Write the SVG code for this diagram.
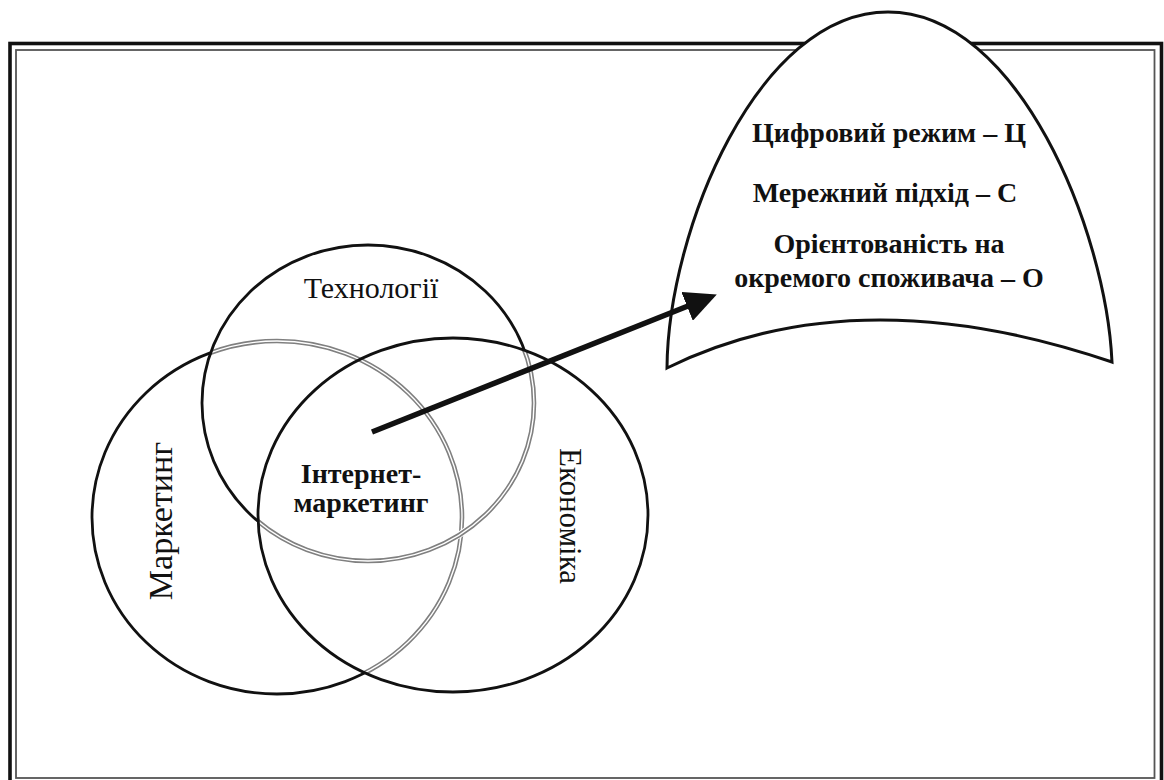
<svg xmlns="http://www.w3.org/2000/svg" width="1164" height="780" viewBox="0 0 1164 780">
  <style>
    .circ { fill: none; stroke: #111; stroke-width: 2.8; }
    .erase { fill: none; stroke: #fff; stroke-width: 6.5; }
    .gray { fill: none; stroke: #808080; stroke-width: 4.6; }
    .gin { fill: none; stroke: #fff; stroke-width: 1.4; }
    .lbl { font-family: "Liberation Serif", "Times New Roman", serif; fill: #111; text-anchor: middle; }
    .b { font-weight: bold; }
  </style>
  <defs>
    <ellipse id="eM" cx="277" cy="517.5" rx="185" ry="176.5"/>
    <ellipse id="eT" cx="368" cy="403" rx="166" ry="158"/>
    <ellipse id="eE" cx="453" cy="515" rx="195" ry="177"/>
    <clipPath id="clipTE">
      <use href="#eT"/>
      <use href="#eE"/>
    </clipPath>
    <clipPath id="clipE">
      <use href="#eE"/>
    </clipPath>
    <marker id="ah" markerUnits="userSpaceOnUse" markerWidth="32" markerHeight="31" viewBox="0 0 32 31" refX="1" refY="15.5" orient="auto">
      <path d="M0,0 L32,15.5 L0,31 Z" fill="#111"/>
    </marker>
  </defs>

  <rect width="1164" height="780" fill="#fff"/>

  <g id="frame">
    <rect x="10" y="43.5" width="1151.5" height="750" fill="none" stroke="#111" stroke-width="3.6"/>
    <rect x="16" y="50" width="1138.5" height="728" fill="none" stroke="#555" stroke-width="1.8"/>
  </g>

  <g id="node-marketing">
    <use href="#eM" class="circ"/>
    <g clip-path="url(#clipTE)">
      <use href="#eM" class="erase"/>
      <use href="#eM" class="gray"/>
      <use href="#eM" class="gin"/>
    </g>
    <text class="lbl" font-size="34" transform="translate(172,521) rotate(-90)">Маркетинг</text>
  </g>

  <g id="node-technology">
    <use href="#eT" class="circ"/>
    <g clip-path="url(#clipE)">
      <use href="#eT" class="erase"/>
      <use href="#eT" class="gray"/>
      <use href="#eT" class="gin"/>
    </g>
    <text class="lbl" font-size="30" x="371" y="298">Технології</text>
  </g>

  <g id="node-economy">
    <use href="#eE" class="circ"/>
    <text class="lbl" font-size="31" transform="translate(560,516) rotate(90)">Економіка</text>
  </g>

  <g id="node-internet-marketing">
    <text class="lbl b" font-size="28" x="361" y="483">Інтернет-</text>
    <text class="lbl b" font-size="28" x="361" y="512">маркетинг</text>
  </g>

  <g id="node-features">
    <path d="M667,368 C668,230 758,12 888,12 C1018,12 1106,230 1112,362 Q856,275 667,368 Z" fill="#fff" stroke="#111" stroke-width="3"/>
    <text class="lbl b" font-size="28" x="889" y="142">Цифровий режим – Ц</text>
    <text class="lbl b" font-size="28" x="885" y="202">Мережний підхід – С</text>
    <text class="lbl b" font-size="28" x="889" y="253">Орієнтованість на</text>
    <text class="lbl b" font-size="28" x="889" y="287">окремого споживача – О</text>
  </g>

  <g id="connectors">
    <line x1="372" y1="432" x2="688" y2="306" stroke="#111" stroke-width="5.5" marker-end="url(#ah)"/>
  </g>
</svg>
